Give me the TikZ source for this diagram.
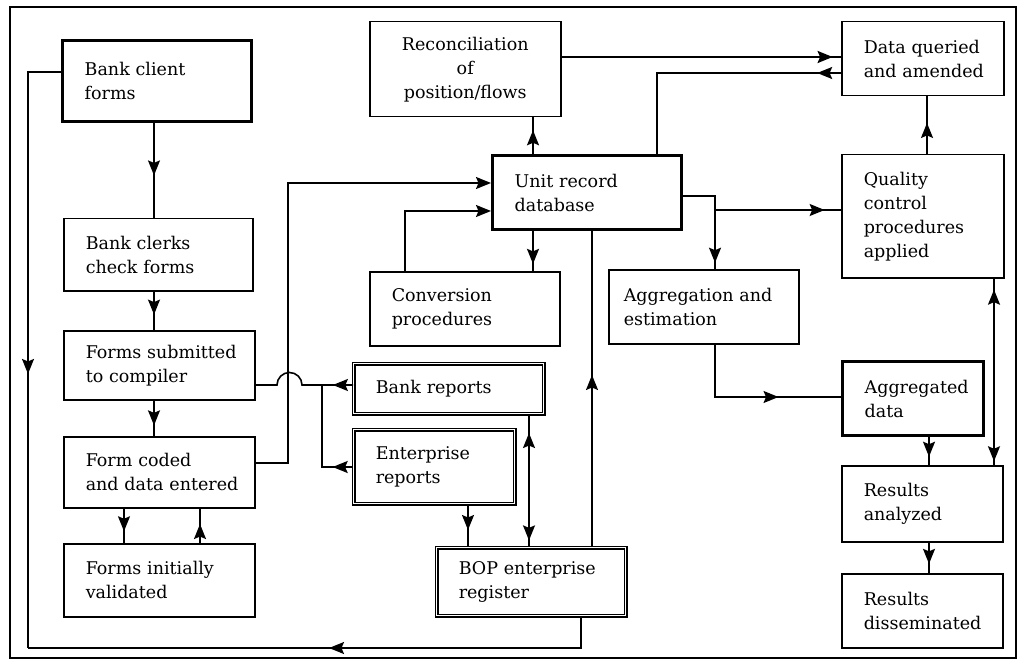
\documentclass[tikz,border=0pt]{standalone}
\usepackage{fontspec}
\setmainfont{DejaVu Serif}
\usetikzlibrary{arrows.meta,decorations.markings}
\hyphenpenalty=10000
\exhyphenpenalty=10000
\tikzset{
  >={Stealth[length=15pt,width=12pt,inset=2.5pt]},
  box/.style={draw,line width=1.5pt,anchor=north west,align=left,inner xsep=22pt,
              inner ysep=0pt,font=\fontsize{17.5}{24}\selectfont},
  heavy/.style={line width=3.4pt},
  dbl/.style={double,double distance=1.2pt,line width=1.5pt},
  fl/.style={line width=1.6pt},
  fwd/.style={postaction={decorate},decoration={markings,mark=at position #1 with {\arrow{>}}}},
  bi/.style 2 args={postaction={decorate},decoration={markings,
              mark=at position #1 with {\arrowreversed{>}},mark=at position #2 with {\arrow{>}}}},
}
\begin{document}
\begin{tikzpicture}[x=1pt,y=-1pt]
\useasboundingbox (0,0) rectangle (1019,660);
\draw[line width=1.5pt] (10,7) rectangle (1016,658);
% left column
\node[box,heavy,minimum width=189pt,minimum height=81pt,text width=145pt] (client) at (61,39) {Bank~client\\forms};
\node[box,minimum width=189pt,minimum height=72pt,text width=145pt] (clerks) at (63,218) {Bank~clerks\\check~forms};
\node[box,minimum width=191pt,minimum height=69pt,text width=147pt] (submit) at (63,330) {Forms~submitted\\to~compiler};
\node[box,minimum width=191pt,minimum height=71pt,text width=147pt] (coded) at (63,436) {Form~coded\\and~data~entered};
\node[box,minimum width=191pt,minimum height=73pt,text width=147pt] (valid) at (63,543) {Forms~initially\\validated};
% middle
\node[box,align=center,minimum width=191pt,minimum height=95pt,text width=147pt] (recon) at (369,21) {Reconciliation\\of\\position/flows};
\node[box,heavy,minimum width=189pt,minimum height=74pt,text width=145pt] (urdb) at (491,154) {Unit~record\\database};
\node[box,minimum width=190pt,minimum height=74pt,text width=146pt] (conv) at (369,271) {Conversion\\procedures};
\node[box,inner xsep=15pt,minimum width=190pt,minimum height=74pt,text width=160pt] (aggest) at (608,269) {Aggregation~and\\estimation};
\node[box,dbl,minimum width=190pt,minimum height=50pt,text width=146pt] (bankrep) at (353,363) {Bank~reports};
\node[box,dbl,minimum width=161pt,minimum height=74pt,text width=117pt] (entrep) at (353,429) {Enterprise\\reports};
\node[box,dbl,minimum width=189pt,minimum height=68pt,text width=145pt] (bop) at (436,547) {BOP~enterprise\\register};
% right column
\node[box,minimum width=162pt,minimum height=74pt,text width=118pt] (queried) at (841,21) {Data~queried\\and~amended};
\node[box,minimum width=162pt,minimum height=123pt,text width=118pt] (qc) at (841,154) {Quality\\control\\procedures\\applied};
\node[box,heavy,minimum width=141pt,minimum height=74pt,text width=97pt] (aggdata) at (841,360) {Aggregated\\data};
\node[box,minimum width=161pt,minimum height=76pt,text width=117pt] (analyzed) at (841,465) {Results\\analyzed};
\node[box,minimum width=161pt,minimum height=74pt,text width=117pt] (dissem) at (841,573) {Results\\disseminated};
\coordinate (split) at (715,210);
% flows, left
\draw[fl,fwd=0.55] (client.south -| 154,0) -- (clerks.north -| 154,0);
\draw[fl,fwd=0.6] (clerks.south -| 154,0) -- (submit.north -| 154,0);
\draw[fl,fwd=0.7] (submit.south -| 154,0) -- (coded.north -| 154,0);
\draw[fl,fwd=0.66] (coded.south -| 124,0) -- (valid.north -| 124,0);
\draw[fl,fwd=0.55] (valid.north -| 200,0) -- (coded.south -| 200,0);
\draw[fl,fwd=0.55] (client.west |- 0,72) -| (28,648);
\draw[fl,fwd=0.485] (bop.south -| 581,0) |- (28,648);
\draw[fl,->] (coded.east |- 0,463) -| (288,183) -- (urdb.west |- 0,183);
\draw[fl,fwd=0.18] (bankrep.west |- 0,385) -- (302,385) arc[start angle=0,end angle=180,radius=12.5pt] -- (submit.east |- 0,385);
\draw[fl,fwd=0.18] (entrep.west |- 0,467) -| (322,385);
% flows, middle
\draw[fl,line width=2.4pt,fwd=0.97] (recon.east |- 0,57) -- (queried.west |- 0,57);
\draw[fl,fwd=0.09] (queried.west |- 0,73) -| (urdb.north -| 657,0);
\draw[fl,fwd=0.65] (urdb.north -| 533,0) -- (recon.south -| 533,0);
\draw[fl,fwd=0.82] (urdb.south -| 533,0) -- (conv.north -| 533,0);
\draw[fl,->] (conv.north -| 405,0) |- (urdb.west |- 0,211);
\draw[fl,fwd=0.6] (entrep.south -| 468,0) -- (bop.north -| 468,0);
\draw[fl,bi={0.14}{0.95}] (bankrep.south -| 529,0) -- (bop.north -| 529,0);
\draw[fl,fwd=0.545] (bop.north -| 592,0) -- (urdb.south -| 592,0);
% flows, right
\draw[fl,fwd=0.94] (urdb.east |- 0,196) -| (aggest.north -| 715,0);
\draw[fl,fwd=0.87] (split) -- (qc.west |- split);
\draw[fl,fwd=0.65] (aggest.south -| 715,0) |- (aggdata.west |- 0,397);
\draw[fl,fwd=0.7] (aggdata.south -| 929,0) -- (analyzed.north -| 929,0);
\draw[fl,fwd=0.7] (analyzed.south -| 929,0) -- (dissem.north -| 929,0);
\draw[fl,bi={0.06}{0.98}] (qc.south -| 994,0) -- (analyzed.north -| 994,0);
\draw[fl,fwd=0.54] (qc.north -| 927,0) -- (queried.south -| 927,0);
\end{tikzpicture}
\end{document}
